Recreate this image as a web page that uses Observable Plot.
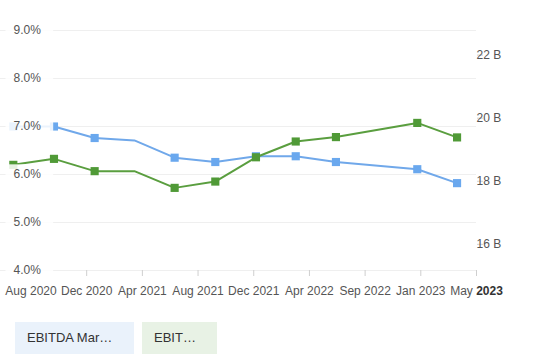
<!DOCTYPE html>
<html><head><meta charset="utf-8">
<script src="https://cdn.jsdelivr.net/npm/d3@7"></script>
<script src="https://cdn.jsdelivr.net/npm/@observablehq/plot@0.6"></script>
<style>
body{margin:0;background:#fff;font-family:"Liberation Sans",Arial,sans-serif;}
#legend{display:flex;gap:8px;padding:12px 0 0 15px;}
.item{height:32px;line-height:32px;font-size:13px;color:#333;padding:0 12px;box-sizing:border-box;white-space:nowrap;}
</style></head><body>
<div id="chart"></div>
<div id="legend"></div>
<script>
// ---- data ----
const quarterDates = ["2020-06-30","2020-09-30","2020-12-31","2021-03-31","2021-06-30","2021-09-30","2021-12-31","2022-03-31","2022-06-30","2022-12-31","2023-03-31"];
const ebitdaMarginPct = [7.0, 7.0, 6.76, 6.71, 6.35, 6.26, 6.38, 6.38, 6.26, 6.11, 5.82];
const ebitdaBillions  = [18.33, 18.52, 18.13, 18.13, 17.60, 17.80, 18.57, 19.07, 19.21, 19.66, 19.20];
const markerShown = [true, true, true, false, true, true, true, true, true, true, true];
const leftTicks = [4, 5, 6, 7, 8, 9];
const rightTicks = [16, 18, 20, 22];
const xTickDates = ["2020-08-09","2020-12-13","2021-04-18","2021-08-22","2021-12-26","2022-05-01","2022-09-04","2023-01-08","2023-05-14"];
const xTickLabels = ["Aug 2020","Dec 2020","Apr 2021","Aug 2021","Dec 2021","Apr 2022","Sep 2022","Jan 2023","May 2023"];
const seriesNames = ["EBITDA Mar\u2026", "EBIT\u2026"];
const xDomain = ["2020-06-01", "2023-05-14"];
const leftDomain = [4, 9];
const rightDomain = [14.98, 22.59];

// ---- build ----
const toLeft = d3.scaleLinear().domain(rightDomain).range(leftDomain);
const data = quarterDates.map((d, i) => ({
  date: new Date(d), margin: ebitdaMarginPct[i], ebitda: ebitdaBillions[i], marker: markerShown[i]
}));
const labelMap = new Map(xTickDates.map((d, i) => [+new Date(d), xTickLabels[i]]));
const leftLabel = d => d.toFixed(1) + "%";
const leftLabelSet = new Set(leftTicks.map(leftLabel));
const blue = "#70a8ea", blueMark = "#6aa8ee";
const green = "#5a9e3f", greenMark = "#509a37";

const chart = Plot.plot({
  width: 538, height: 310,
  marginLeft: 0, marginRight: 62, marginTop: 30, marginBottom: 40,
  style: {fontFamily: '"Liberation Sans", Arial, sans-serif', fontSize: "12px", color: "#555", background: "white", overflow: "visible"},
  x: {type: "utc", domain: xDomain.map(d => new Date(d)), axis: null},
  y: {domain: leftDomain, axis: null},
  marks: [
    Plot.ruleY(leftTicks, {stroke: "#efefef", strokeWidth: 1}),
    Plot.axisX(xTickDates.map(d => new Date(d)), {
      tickSize: 6, tickPadding: 10, stroke: "#cfcfcf", fill: "#555", label: null,
      tickFormat: d => labelMap.get(+d)
    }),
    Plot.line(data, {x: "date", y: "margin", stroke: blue, strokeWidth: 2}),
    Plot.dot(data.filter(d => d.marker), {x: "date", y: "margin", symbol: "square", r: 4.6, fill: blueMark}),
    Plot.line(data, {x: "date", y: d => toLeft(d.ebitda), stroke: green, strokeWidth: 2}),
    Plot.dot(data.filter(d => d.marker), {x: "date", y: d => toLeft(d.ebitda), symbol: "square", r: 4.6, fill: greenMark}),
    Plot.axisY(rightTicks.map(v => toLeft(v)), {
      anchor: "right", tickSize: 6, tickPadding: -6, dy: 6, stroke: "#d0d0d0", fill: "#555", label: null,
      tickFormat: d => Math.round(toLeft.invert(d)) + " B"
    }),
    Plot.text(leftTicks, {
      y: d => d, text: leftLabel, frameAnchor: "left", textAnchor: "start",
      dx: 13, fill: "#555"
    })
  ]
});
document.getElementById("chart").append(chart);

// white label boxes behind left axis labels (drawn over the data)
d3.select(chart).selectAll("text").filter(function () {
  return leftLabelSet.has(this.textContent);
}).each(function () {
  const b = this.getBBox();
  const r = document.createElementNS("http://www.w3.org/2000/svg", "rect");
  r.setAttribute("x", b.x - 8);
  r.setAttribute("y", b.y - 3);
  r.setAttribute("width", b.width + 20);
  r.setAttribute("height", b.height + 6);
  r.setAttribute("fill", "white");
  r.setAttribute("fill-opacity", "0.86");
  r.setAttribute("stroke", "none");
  const t = this.getAttribute("transform");
  if (t) r.setAttribute("transform", t);
  this.parentNode.insertBefore(r, this);
});

// bold year on the last x label
d3.select(chart).selectAll("text").each(function () {
  if (this.textContent === xTickLabels[xTickLabels.length - 1]) {
    const parts = this.textContent.split(" ");
    this.textContent = "";
    d3.select(this).append("tspan").text(parts[0] + " ");
    d3.select(this).append("tspan").attr("font-weight", "bold").attr("fill", "#333").text(parts[1]);
  }
});

// legend
const legendColors = ["#eaf2fb", "#e8f2e5"];
const legendWidths = [119, 75];
const legend = document.getElementById("legend");
seriesNames.forEach((n, i) => {
  const el = document.createElement("div");
  el.className = "item";
  el.style.background = legendColors[i];
  el.style.width = legendWidths[i] + "px";
  el.textContent = n;
  legend.append(el);
});
</script>
</body></html>
